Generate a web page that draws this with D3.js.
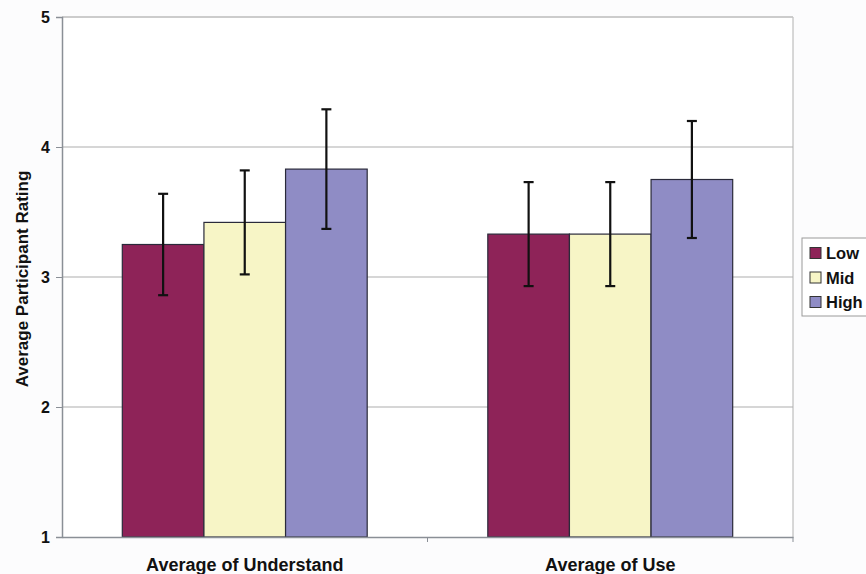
<!DOCTYPE html>
<html><head><meta charset="utf-8">
<script src="https://cdn.jsdelivr.net/npm/d3@7"></script>
<style>body{margin:0;background:#fcfcfd;}svg{display:block;font-family:"Liberation Sans",Arial,sans-serif;}</style>
</head><body>
<svg id="c" width="866" height="574"></svg>
<script>
const categories = ["Average of Understand", "Average of Use"];
const seriesNames = ["Low", "Mid", "High"];
const lowValues = [3.25, 3.33];
const midValues = [3.42, 3.33];
const highValues = [3.83, 3.75];
const lowErr = [0.39, 0.40];
const midErr = [0.40, 0.40];
const highErr = [0.46, 0.45];
const yTicks = [1, 2, 3, 4, 5];
const colors = ["#8e2358", "#f7f5c6", "#8f8cc5"];

const values = [lowValues, midValues, highValues];
const errs = [lowErr, midErr, highErr];

const svg = d3.select("#c");
const L = 62, R = 793, T = 17, B = 537;

svg.append("rect").attr("x", L).attr("y", T).attr("width", R - L).attr("height", B - T).attr("fill", "#ffffff");

const x0 = d3.scaleBand().domain(categories).range([L, R]).paddingInner(0).paddingOuter(0);
const x1 = d3.scaleBand().domain(seriesNames)
  .range([x0.bandwidth() * 0.165, x0.bandwidth() * 0.835]).paddingInner(0).paddingOuter(0);
const y = d3.scaleLinear().domain([1, 5]).range([B, T]);

// gridlines
svg.append("g").selectAll("line").data(yTicks.filter(t => t > 1)).join("line")
  .attr("x1", L).attr("x2", R).attr("y1", d => y(d)).attr("y2", d => y(d))
  .attr("stroke", "#c9c9c9").attr("stroke-width", 1.3);

// bars
const rows = [];
categories.forEach((c, i) => seriesNames.forEach((s, j) => rows.push({c, s, j, v: values[j][i], e: errs[j][i]})));
svg.append("g").selectAll("rect").data(rows).join("rect")
  .attr("x", d => x0(d.c) + x1(d.s))
  .attr("y", d => y(d.v))
  .attr("width", x1.bandwidth())
  .attr("height", d => y(1) - y(d.v))
  .attr("fill", d => colors[d.j])
  .attr("stroke", "#2a2a3a").attr("stroke-width", 1.2);

// error bars
const eg = svg.append("g").attr("stroke", "#111").attr("stroke-width", 2.2);
rows.forEach(d => {
  const cx = x0(d.c) + x1(d.s) + x1.bandwidth() / 2;
  eg.append("line").attr("x1", cx).attr("x2", cx).attr("y1", y(d.v + d.e)).attr("y2", y(d.v - d.e));
  eg.append("line").attr("x1", cx - 5).attr("x2", cx + 5).attr("y1", y(d.v + d.e)).attr("y2", y(d.v + d.e));
  eg.append("line").attr("x1", cx - 5).attr("x2", cx + 5).attr("y1", y(d.v - d.e)).attr("y2", y(d.v - d.e));
});

// plot border right / top light
svg.append("line").attr("x1", R).attr("x2", R).attr("y1", T).attr("y2", B).attr("stroke", "#b0b0b0").attr("stroke-width", 1);
svg.append("line").attr("x1", L).attr("x2", R).attr("y1", T).attr("y2", T).attr("stroke", "#c9c9c9").attr("stroke-width", 1.3);

// y axis
const yAxis = d3.axisLeft(y).tickValues(yTicks).tickSize(6).tickPadding(6).tickFormat(d3.format("d"));
const ya = svg.append("g").attr("transform", `translate(${L},0)`).call(yAxis);
ya.select(".domain").attr("stroke", "#8a8f96").attr("stroke-width", 1.5);
ya.selectAll(".tick line").attr("stroke", "#8a8f96");
ya.selectAll("text").attr("font-size", 16).attr("font-weight", "bold").attr("fill", "#111").attr("font-family", "Liberation Sans, Arial, sans-serif");

// x axis
const xAxis = d3.axisBottom(x0).tickSize(0).tickPadding(21);
const xa = svg.append("g").attr("transform", `translate(0,${B})`).call(xAxis);
xa.select(".domain").attr("stroke", "#8a8f96").attr("stroke-width", 1.5);
xa.selectAll("text").attr("font-size", 18).attr("font-weight", "bold").attr("fill", "#111").attr("font-family", "Liberation Sans, Arial, sans-serif");
// category boundary ticks
svg.append("g").selectAll("line").data([L + x0.bandwidth(), R]).join("line")
  .attr("x1", d => d).attr("x2", d => d).attr("y1", B).attr("y2", B + 5)
  .attr("stroke", "#8a8f96").attr("stroke-width", 1);

// y title
svg.append("text").attr("transform", `translate(28,279) rotate(-90)`)
  .attr("text-anchor", "middle").attr("font-size", 17).attr("font-weight", "bold").attr("fill", "#111")
  .text("Average Participant Rating");

// legend
const lg = svg.append("g");
lg.append("rect").attr("x", 802).attr("y", 238).attr("width", 90).attr("height", 78)
  .attr("fill", "#ffffff").attr("stroke", "#9a9a9a").attr("stroke-width", 1);
seriesNames.forEach((s, j) => {
  const yy = 253 + j * 24.5;
  lg.append("rect").attr("x", 810).attr("y", yy - 5.5).attr("width", 11).attr("height", 11)
    .attr("fill", colors[j]).attr("stroke", "#333").attr("stroke-width", 1);
  lg.append("text").attr("x", 826).attr("y", yy + 6).attr("font-size", 16.5).attr("font-weight", "bold").attr("fill", "#111").text(s);
});
</script>
</body></html>
